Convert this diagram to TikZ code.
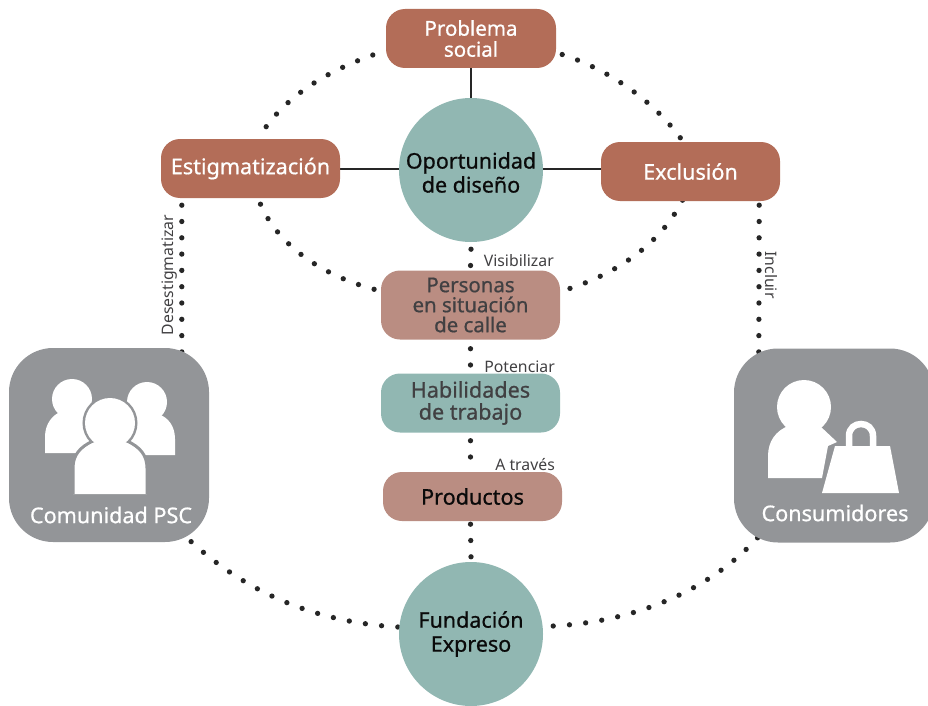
\documentclass[tikz,border=0pt]{standalone}
\usepackage{fontspec}
\setmainfont{Noto Sans}
\newfontfamily\semib[FakeBold=0.7]{Noto Sans}
\usetikzlibrary{backgrounds,calc}
\definecolor{rust}{HTML}{B36D58}
\definecolor{rose}{HTML}{BA8D82}
\definecolor{teal}{HTML}{91B7B2}
\definecolor{iconbg}{HTML}{939598}
\definecolor{inkd}{HTML}{414042}
\definecolor{inkk}{HTML}{0A0A0A}
\tikzset{
 x=1pt,y=-1pt,
 boxn/.style={rectangle,rounded corners=19pt,minimum width=179pt,minimum height=59pt,inner sep=0pt,align=center,font=\semib\fontsize{21.6}{23}\selectfont},
 ball/.style={circle,fill=teal,minimum size=144pt,inner sep=0pt},
 balltxt/.style={inner sep=0pt,align=center,text=inkk,font=\semib\fontsize{21.5}{24}\selectfont},
 icon/.style={rectangle,rounded corners=44pt,fill=iconbg,minimum width=200pt,minimum height=194pt,inner sep=0pt},
 dots/.style={line width=5.3pt,line cap=round,dash pattern=on 0pt off 16.3pt,color=black!85},
 link/.style={line width=2.6pt,color=black!85},
 verb/.style={text=inkd,font=\fontsize{15.8}{18}\selectfont,inner sep=0pt},
 captxt/.style={text=white,inner sep=0pt,font=\semib\fontsize{21.6}{24}\selectfont},
}
\begin{document}
\begin{tikzpicture}
\useasboundingbox (0,0) rectangle (928,706);
\clip (0,0) rectangle (928,706);
\node[boxn,fill=rust,text=white,minimum width=170pt,font=\semib\fontsize{20.5}{21}\selectfont] (prob) at (471,38.5) {Problema\\social};
\node[boxn,fill=rust,text=white] (est) at (250.5,168.5) {Estigmatización};
\node[boxn,fill=rust,text=white] (exc) at (690.5,171.5) {Exclusión};
\node[ball] (op) at (471,170) {};
\node[balltxt] (opt) at (471,172.5) {Oportunidad\\de diseño};
\node[boxn,fill=rose,text=inkd,minimum height=69pt,font=\semib\fontsize{20.4}{20}\selectfont] (per) at (470.5,305) {Personas\\en situación\\de calle};
\node[boxn,fill=teal,text=inkd,font=\semib\fontsize{21.6}{22}\selectfont] (hab) at (470.5,403) {Habilidades\\de trabajo};
\node[boxn,fill=rose,text=inkk,minimum height=49pt] (pro) at (472.5,496.5) {Productos};
\node[ball] (fun) at (471,634) {};
\node[balltxt] (funt) at (471,634) {Fundación\\Expreso};
\node[icon] (com) at (109,445) {};
\node[icon] (con) at (834,445.5) {};
\node[captxt] (comt) at (111,515) {Comunidad PSC};
\node[captxt] (cont) at (835,513) {Consumidores};
\node[verb,anchor=east] (v1) at (554,260.5) {Visibilizar};
\node[verb,anchor=east] (v2) at (555,366.5) {Potenciar};
\node[verb,anchor=east] (v3) at (555,464.5) {A través};
\node[verb,rotate=90] (v4) at (170,275) {Desestigmatizar};
\node[verb,rotate=-90] (v5) at (771,275) {Incluir};
% icons
\fill[white] (72,399) circle (20);
\fill[white] (45,453) -- (45,437) .. controls (45,424) and (52,415) .. (62,411) -- (90,411) -- (100,453) -- cycle;
\fill[white] (147,402) circle (20);
\fill[white] (175,455) -- (175,439) .. controls (175,426) and (168,417) .. (158,414) -- (130,414) -- (120,455) -- cycle;
\fill[white,draw=iconbg,line width=3pt] (110,423) circle (26);
\fill[white,draw=iconbg,line width=3pt] (73,494) -- (73,468) .. controls (73,455) and (80,447) .. (93,441) -- (127,441) .. controls (140,447) and (147,455) .. (147,468) -- (147,494);
\fill[white] (110,423) circle (25);
\fill[white] (75,492) -- (75,468) .. controls (75,456) and (82,448) .. (95,442) -- (125,442) .. controls (138,448) and (143,456) .. (143,468) -- (143,492) -- cycle;
\fill[white] (804,407) circle (27);
\fill[white] (768,478) -- (768,456) .. controls (768,441) and (776,431) .. (788,426) -- (820,426) -- (837,442) -- (828,446) -- (822,478) -- cycle;
\fill[white] (822,493) -- (835,446) -- (890,446) -- (899,493) -- cycle;
\draw[white,line width=6.5pt] (849,447) -- (849,436) .. controls (849,420) and (873,420) .. (873,436) -- (873,447);
\begin{scope}[on background layer]
\draw[link] (prob.south) -- (op.north);
\draw[link] ($(est.east)+(0,0.5)$) -- ++(60,0);
\draw[link] ($(exc.west)+(0,-2.5)$) -- ++(-60,0);
\draw[dots] ($(prob.west)+(-13,16.5)$) .. controls (325,72) and (288,96) .. ($(est.north)+(14.5,-10.5)$);
\draw[dots] ($(prob.east)+(6,16)$) .. controls (610,70) and (655,102) .. ($(exc.north)+(-8,-1)$);
\draw[dots] ($(est.south)+(10,6)$) .. controls (278,245) and (322,276) .. ($(per.west)+(-4,-15)$);
\draw[dots] ($(exc.south)+(-8,-1)$) .. controls (660,245) and (615,274) .. ($(per.east)+(8,-16)$);
\draw[dots] ($(est.south west)+(21,7)$) -- ($(com.north west)+(173,5)$);
\draw[dots] ($(exc.south east)+(-21,4)$) -- ($(con.north west)+(25,5)$);
\draw[dots] ($(fun.west)+(-1,-7)$) .. controls (312,622) and (238,590) .. ($(com.south east)+(-32,-14)$);
\draw[dots] ($(fun.east)+(10,-8)$) .. controls (632,622) and (712,592) .. ($(con.south west)+(30,-12)$);
\draw[dots] ($(op.south)+(0,7)$) -- ($(per.north)+(0,-3)$);
\draw[dots] ($(per.south)+(0,9)$) -- ($(hab.north)+(0,-7)$);
\draw[dots] ($(hab.south)+(0,8)$) -- ($(pro.north)+(-2,1)$);
\draw[dots] ($(pro.south)+(-2,3)$) -- ($(fun.north)+(0,-5)$);
\end{scope}
\end{tikzpicture}
\end{document}
